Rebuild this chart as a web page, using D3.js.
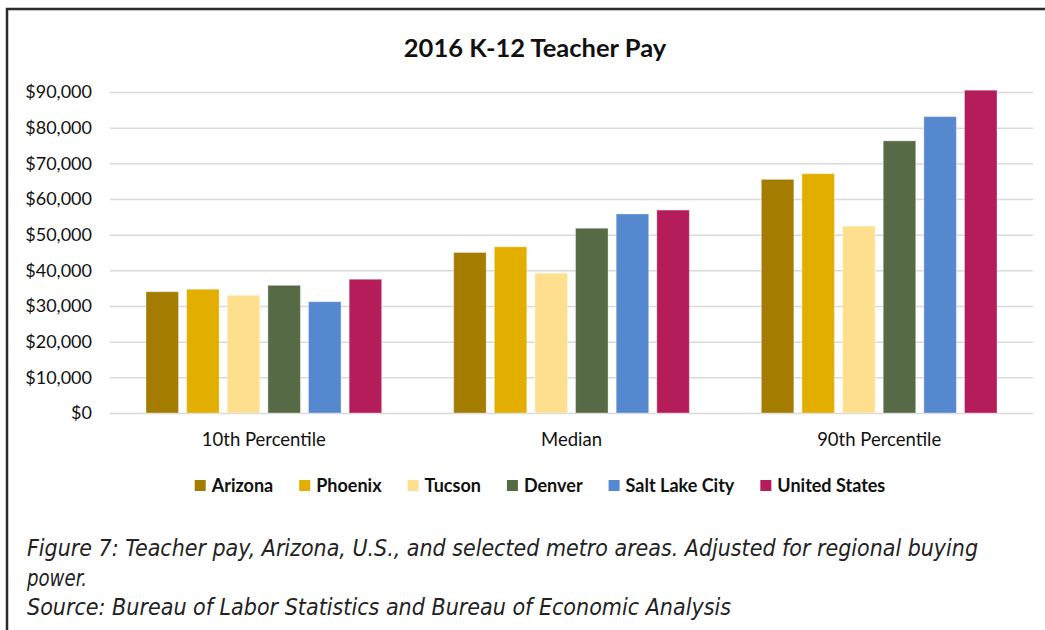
<!DOCTYPE html>
<html>
    <head>
        <title>2016 K-12 Teacher Pay</title>
        <script src="https://d3js.org/d3.v7.min.js"></script>
        <style>
            body {
                margin: 0;
                background: #fff;
                overflow: hidden;
            }
            svg {
                display: block;
            }
            text {
                font-family: 'Lato', 'Noto Sans', sans-serif;
                fill: #111;
            }
            .caption {
                font-family: 'Liberation Sans Narrow', 'DejaVu Sans Condensed', 'Noto Sans', sans-serif;
                font-style: italic;
                font-stretch: condensed;
                font-size: 23px;
                fill: #222;
            }
        </style>
    </head>
    <body>
        <script>
            const groups = ['10th Percentile', 'Median', '90th Percentile'];
            const series = ['Arizona', 'Phoenix', 'Tucson', 'Denver', 'Salt Lake City', 'United States'];
            const colors = ['#a37c00', '#e2af00', '#fddf8e', '#566a45', '#5688cf', '#b41d5a'];
            // one array per series, in group order
            const arizona = [34000, 45000, 65500];
            const phoenix = [34700, 46600, 67100];
            const tucson = [33000, 39200, 52400];
            const denver = [35800, 51800, 76300];
            const saltLake = [31200, 55800, 83100];
            const unitedStates = [37500, 56900, 90500];
            const yTicks = [0, 10000, 20000, 30000, 40000, 50000, 60000, 70000, 80000, 90000];

            const seriesValues = [arizona, phoenix, tucson, denver, saltLake, unitedStates];
            const rows = groups.map((g, i) => ({
                group: g,
                values: series.map((s, j) => ({ key: s, value: seriesValues[j][i], color: colors[j] }))
            }));

            const width = 1045;
            const height = 630;
            const plot = { left: 110, right: 1033, top: 92, bottom: 413 };

            const svg = d3.select('body').append('svg').attr('width', width).attr('height', height);

            // frame: only top and left edges fall inside the picture
            svg.append('path')
                .attr('d', `M7,${height} V9 H${width}`)
                .attr('fill', 'none')
                .attr('stroke', '#2b2b2b')
                .attr('stroke-width', 2.5);

            const x0 = d3.scaleBand().domain(groups).range([plot.left, plot.right]);
            const x1 = d3.scaleBand().domain(series).range([36, x0.bandwidth() - 36]).paddingInner(0.2);
            const y = d3.scaleLinear().domain([0, 90000]).range([plot.bottom, plot.top]);

            svg.append('text')
                .attr('x', 535)
                .attr('y', 57)
                .attr('text-anchor', 'middle')
                .attr('font-weight', 'bold')
                .attr('font-size', 25.5)
                .text('2016 K-12 Teacher Pay');

            const yAxis = svg.append('g')
                .attr('transform', `translate(${plot.left},0)`)
                .call(d3.axisLeft(y).tickValues(yTicks).tickSize(-(plot.right - plot.left)).tickPadding(18)
                    .tickFormat((d) => '$' + d3.format(',')(d)));
            yAxis.select('.domain').remove();
            yAxis.selectAll('line').attr('stroke', '#d9d9d9').attr('stroke-width', 1.5);
            yAxis.selectAll('text').attr('font-size', 18).attr('fill', '#111');

            const grp = svg.append('g')
                .selectAll('g')
                .data(rows)
                .join('g')
                .attr('transform', (d) => `translate(${x0(d.group)},0)`);

            grp.selectAll('rect')
                .data((d) => d.values)
                .join('rect')
                .attr('x', (d) => x1(d.key))
                .attr('y', (d) => y(d.value))
                .attr('width', x1.bandwidth())
                .attr('height', (d) => y(0) - y(d.value))
                .attr('fill', (d) => d.color)
                .attr('stroke', '#fff')
                .attr('stroke-opacity', 0.35)
                .attr('stroke-width', 1);

            svg.append('g')
                .selectAll('text')
                .data(groups)
                .join('text')
                .attr('x', (d) => x0(d) + x0.bandwidth() / 2)
                .attr('y', 446)
                .attr('text-anchor', 'middle')
                .attr('font-size', 18.5)
                .text((d) => d);

            // legend, centred under the plot
            const legend = svg.append('g');
            const items = legend.selectAll('g').data(series).join('g');
            items.append('rect')
                .attr('width', 11)
                .attr('height', 11)
                .attr('y', -6)
                .attr('fill', (d, i) => colors[i]);
            items.append('text')
                .attr('x', 17)
                .attr('dy', '0.35em')
                .attr('font-weight', 'bold')
                .attr('font-size', 18)
                .text((d) => d);
            let lx = 0;
            items.each(function () {
                const w = this.querySelector('text').getComputedTextLength();
                d3.select(this).attr('transform', `translate(${lx},0)`);
                lx += 17 + w + 26;
            });
            const legendWidth = lx - 26;
            legend.attr('transform', `translate(${540 - legendWidth / 2},486)`);

            const captions = [
                { text: 'Figure 7: Teacher pay, Arizona, U.S., and selected metro areas. Adjusted for regional buying', y: 556, len: 951 },
                { text: 'power.', y: 586, len: 60 },
                { text: 'Source: Bureau of Labor Statistics and Bureau of Economic Analysis', y: 615, len: 704 }
            ];
            svg.append('g')
                .selectAll('text')
                .data(captions)
                .join('text')
                .attr('class', 'caption')
                .attr('x', 27)
                .attr('y', (d) => d.y)
                .attr('textLength', (d) => d.len)
                .attr('lengthAdjust', 'spacingAndGlyphs')
                .text((d) => d.text);
        </script>
    </body>
</html>
